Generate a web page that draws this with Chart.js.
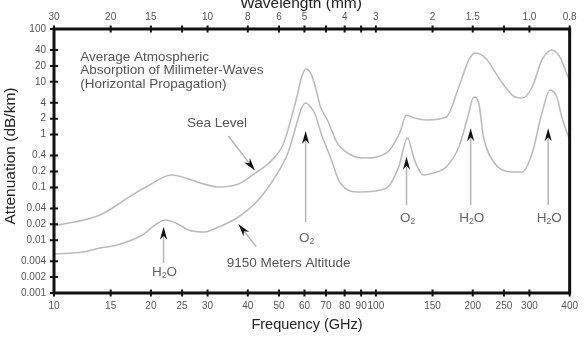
<!DOCTYPE html>
<html><head><meta charset="utf-8">
<script src="https://cdn.jsdelivr.net/npm/chart.js@4.4.1/dist/chart.umd.min.js"></script>
<style>html,body{margin:0;padding:0;background:#fff}</style>
</head><body>
<canvas id="c" width="585" height="337"></canvas>
<script>
// ---- Axes ----
const freqTicks = [10,15,20,25,30,40,50,60,70,80,90,100,150,200,250,300,400];
const wavelengthLabels = ['30','20','15','','10','8','6','5','','4','','3','2','1.5','','1.0','0.8'];
const attTicks = [100,40,20,10,4,2,1,0.4,0.2,0.1,0.04,0.02,0.01,0.004,0.002,0.001];

// ---- Sea level curve (GHz, dB/km) ----
const seaFreq = [10,13.9,17.5,19.8,23.1,26.8,29.2,32.5,37.4,42.2,46.9,51.4,54.4,57.2,58.8,60.6,62.7,64.9,67.3,70.7,75.9,82.6,91.8,108,118.5,124.5,131.8,143.6,165.3,181,194.4,204,219,247,271,285,306,328,352,373,391,400];
const seaAtt  = [0.0186,0.030,0.0718,0.111,0.172,0.138,0.116,0.102,0.116,0.187,0.303,0.635,1.89,6.1,12.3,17.5,14.7,7.97,3.33,1.89,0.69,0.43,0.36,0.45,1.07,2.35,2.06,1.89,2.15,7.97,25.9,35.1,28.2,9.5,5.15,4.93,7.97,25.9,40,29.5,14.7,10.4];

// ---- 9150 m altitude curve ----
const altFreq = [10,12.3,13.9,15.7,18.8,20.8,22.2,23.9,26.2,29.2,32.5,37.4,43.1,48.6,53.3,57.2,58.8,60.6,62.3,64.5,68.2,72.2,77.5,89.3,108,117.7,125.4,131.8,140.4,150.6,165.3,181,193,201.5,208.7,216,230,265.6,285,306,328,347.6,365,378,395,400];
const altAtt  = [0.00548,0.00598,0.00711,0.0081,0.01254,0.0203,0.0242,0.0212,0.0156,0.0143,0.0178,0.0275,0.0577,0.157,0.449,1.89,3.19,3.96,3.48,2.56,0.90,0.377,0.121,0.0818,0.0975,0.243,0.863,0.330,0.172,0.187,0.243,0.582,2.15,5.15,3.96,0.90,0.330,0.196,0.196,0.449,2.56,7.0,5.15,2.15,0.98,0.79];

// ---- Absorption line markers ----
const markerNames   = ['H₂O','O₂','O₂','H₂O','H₂O'];
const markerFreq    = [21.9,60.5,124.5,197,343];
const markerTipAtt  = [0.018,1.17,0.381,1.32,1.32];
const markerTailAtt = [0.0037,0.0221,0.0464,0.0464,0.0464];
const markerLabelAtt= [0.0021,0.00925,0.0224,0.0224,0.0224];

// ---- Curve callouts ----
const calloutText     = ['Sea Level','9150 Meters Altitude'];
const calloutTextFreq = [25.9,34.4];
const calloutTextAtt  = [1.39,0.0031];
const calloutTail     = [[34.8,0.94],[42.5,0.00753]];
const calloutTip      = [[42.1,0.209],[37.4,0.0203]];

const noteLines = ['Average Atmospheric','Absorption of Milimeter-Waves','(Horizontal Propagation)'];
const noteAnchor = [12.06,24.8];

const FONT = '"Liberation Sans", Arial, sans-serif';

function pts(fs, as){ return fs.map((f,i)=>({x:f,y:as[i]})); }

function arrowHead(ctx, tx, ty, fx, fy){
  const ang = Math.atan2(ty-fy, tx-fx);
  ctx.save(); ctx.translate(tx,ty); ctx.rotate(ang);
  ctx.beginPath(); ctx.moveTo(0,0); ctx.lineTo(-13,-3.6); ctx.lineTo(-9,0); ctx.lineTo(-13,3.6); ctx.closePath();
  ctx.fillStyle='#111'; ctx.fill(); ctx.restore();
}
function arrow(ctx, fx, fy, tx, ty){
  const d = Math.hypot(tx-fx, ty-fy), k = (d-9)/d;
  ctx.save(); ctx.strokeStyle='#b4b4b4'; ctx.lineWidth=1.5;
  ctx.beginPath(); ctx.moveTo(fx,fy); ctx.lineTo(fx+(tx-fx)*k, fy+(ty-fy)*k); ctx.stroke(); ctx.restore();
  arrowHead(ctx, tx, ty, fx, fy);
}
const SUB = '₀₁₂₃₄₅₆₇₈₉';
function chem(ctx, str, cx, by){
  const parts = [...str].map(ch=>{ const k=SUB.indexOf(ch); return k>=0?{t:String(k),s:true}:{t:ch,s:false}; });
  const big = '13.5px '+FONT, small = '8.5px '+FONT;
  let w=0; parts.forEach(p=>{ ctx.font=p.s?small:big; p.w=ctx.measureText(p.t).width; w+=p.w; });
  let x = cx - w/2;
  ctx.textAlign='left'; ctx.textBaseline='alphabetic';
  parts.forEach(p=>{ ctx.font=p.s?small:big; ctx.fillText(p.t, x, p.s?by+2.5:by); x+=p.w; });
}

const deco = {
  id:'deco',
  afterDraw(chart){
    const ctx = chart.ctx, ca = chart.chartArea;
    const xs = chart.scales.x, ys = chart.scales.y;
    const X = f=>xs.getPixelForValue(f), Y = a=>ys.getPixelForValue(a);
    ctx.save();
    // frame
    ctx.strokeStyle='#111'; ctx.lineWidth=3;
    ctx.strokeRect(ca.left, ca.top, ca.right-ca.left, ca.bottom-ca.top);
    // tick marks crossing axes
    ctx.lineWidth=2;
    ctx.beginPath();
    freqTicks.forEach(f=>{ const px=X(f);
      ctx.moveTo(px, ca.bottom-3.5); ctx.lineTo(px, ca.bottom+3.5);
      ctx.moveTo(px, ca.top-3.5); ctx.lineTo(px, ca.top+3.5); });
    attTicks.forEach(a=>{ const py=Y(a); ctx.moveTo(ca.left-4, py); ctx.lineTo(ca.left+4, py); });
    ctx.stroke();
    // axis titles
    ctx.fillStyle='#222'; ctx.textBaseline='alphabetic'; ctx.textAlign='center';
    ctx.font='15.5px '+FONT; ctx.fillText('Wavelength (mm)', 301, 8);
    ctx.font='14.5px '+FONT; ctx.fillText('Frequency (GHz)', 307, 329);
    ctx.save(); ctx.translate(15, 156); ctx.rotate(-Math.PI/2);
    ctx.font='15.5px '+FONT; ctx.fillText('Attenuation (dB/km)', 0, 0); ctx.restore();
    // note
    ctx.fillStyle='#555'; ctx.textAlign='left'; ctx.font='13.5px '+FONT;
    noteLines.forEach((t,i)=>ctx.fillText(t, X(noteAnchor[0]), Y(noteAnchor[1])+i*13.5));
    // callouts
    calloutText.forEach((t,i)=>{
      ctx.fillStyle='#555'; ctx.font='13.5px '+FONT; ctx.textAlign='left';
      ctx.fillText(t, X(calloutTextFreq[i]), Y(calloutTextAtt[i]));
      arrow(ctx, X(calloutTail[i][0]), Y(calloutTail[i][1]), X(calloutTip[i][0]), Y(calloutTip[i][1]));
    });
    // absorption markers
    markerNames.forEach((n,i)=>{
      const px = X(markerFreq[i]);
      arrow(ctx, px, Y(markerTailAtt[i]), px, Y(markerTipAtt[i]));
      ctx.fillStyle='#666';
      chem(ctx, n, px+1, Y(markerLabelAtt[i]));
    });
    ctx.restore();
  }
};

const tickFont = {family: FONT, size: 10};
function xTicks(s){ s.ticks = freqTicks.map(v=>({value:v})); }

new Chart(document.getElementById('c'), {
  type:'line',
  data:{ datasets:[
    {label:'Sea Level', data:pts(seaFreq,seaAtt), borderColor:'#bcbcbc', borderWidth:1.6, pointRadius:0, cubicInterpolationMode:'monotone', fill:false, xAxisID:'x', yAxisID:'y'},
    {label:'9150 Meters Altitude', data:pts(altFreq,altAtt), borderColor:'#bcbcbc', borderWidth:1.6, pointRadius:0, cubicInterpolationMode:'monotone', fill:false, xAxisID:'x', yAxisID:'y'}
  ]},
  options:{
    responsive:false, animation:false,
    layout:{padding:{left:0,right:9,top:0,bottom:0}},
    plugins:{legend:{display:false}, tooltip:{enabled:false}},
    scales:{
      x:{type:'logarithmic', position:'bottom', min:10, max:400,
         afterBuildTicks:xTicks, afterFit:s=>{s.height=44;},
         ticks:{autoSkip:false, maxRotation:0, minRotation:0, padding:7, color:'#555', font:tickFont, callback:v=>String(v)},
         grid:{display:false, drawTicks:false}, border:{display:false}},
      x2:{type:'logarithmic', position:'top', min:10, max:400,
         afterBuildTicks:xTicks, afterFit:s=>{s.height=29;},
         ticks:{autoSkip:false, maxRotation:0, minRotation:0, padding:6, color:'#555', font:tickFont, callback:v=>wavelengthLabels[freqTicks.indexOf(v)]},
         grid:{display:false, drawTicks:false}, border:{display:false}},
      y:{type:'logarithmic', position:'left', min:0.001, max:100,
         afterBuildTicks:s=>{ s.ticks = attTicks.map(v=>({value:v})); }, afterFit:s=>{s.width=54;},
         ticks:{autoSkip:false, padding:8, color:'#555', font:tickFont, callback:v=>String(v)},
         grid:{display:false, drawTicks:false}, border:{display:false}}
    }
  },
  plugins:[deco]
});
</script>
</body></html>
